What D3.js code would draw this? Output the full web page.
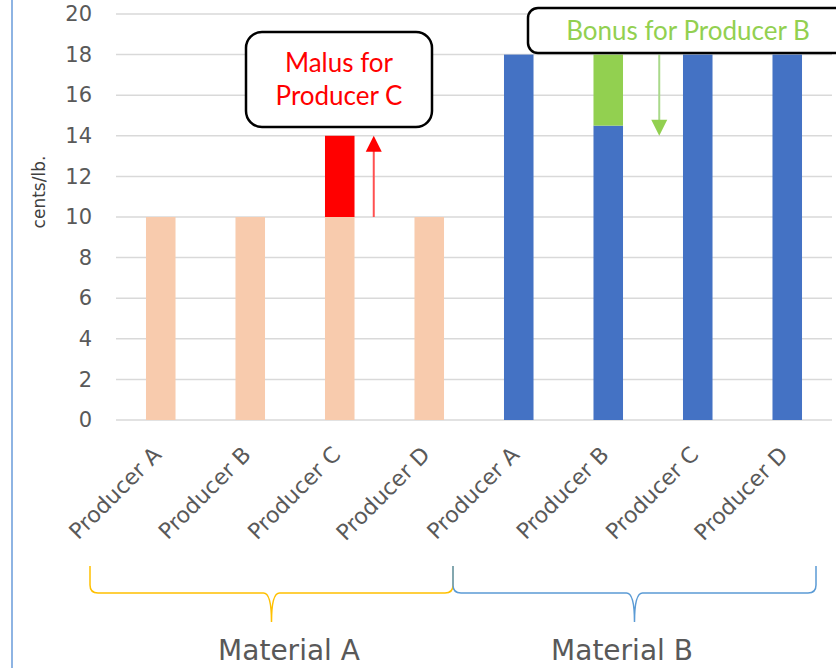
<!DOCTYPE html>
<html><head><meta charset="utf-8">
<script src="https://cdn.jsdelivr.net/npm/d3@7"></script>
<style>
html,body{margin:0;padding:0;background:#fff;}
svg{display:block;}
</style></head>
<body>
<svg id="chart" width="836" height="668"></svg>
<script>
const categories = ["Producer A","Producer B","Producer C","Producer D","Producer A","Producer B","Producer C","Producer D"];
const materials = ["Material A","Material B"];
const materialOf = [0,0,0,0,1,1,1,1];
const baseValues = [10,10,10,10,18,14.5,18,18];
const malusValues = [0,0,4,0,0,0,0,0];
const bonusValues = [0,0,0,0,0,3.5,0,0];
const yTicks = [0,2,4,6,8,10,12,14,16,18,20];
const yTitle = "cents/lb.";
const malusText = ["Malus for","Producer C"];
const bonusText = ["Bonus for Producer B"];

const svg = d3.select("#chart");
const W = 836, H = 668;
const x = d3.scaleBand().domain(d3.range(categories.length)).range([116, 832]).padding(0);
const y = d3.scaleLinear().domain([0,20]).range([420,14]);
const barW = x.bandwidth()*0.33;
const matColor = ["#F8CBAD","#4472C4"];
const braceColor = ["#FFC000","#5B9BD5"];
const textCol = "#595959";
const tickFont = "'DejaVu Sans', sans-serif";
const annFont = "Lato, 'Open Sans', sans-serif";

// left border
svg.append("line").attr("x1",12).attr("x2",12).attr("y1",0).attr("y2",H)
  .attr("stroke","#8EB4E3").attr("stroke-width",2);

// gridlines
svg.append("g").selectAll("line").data(yTicks).join("line")
  .attr("x1",116).attr("x2",832).attr("y1",d=>y(d)).attr("y2",d=>y(d))
  .attr("stroke","#D9D9D9").attr("stroke-width",1.5);

// y axis labels
const yAxis = d3.axisLeft(y).tickValues(yTicks).tickSize(0).tickPadding(0);
const yg = svg.append("g").attr("transform","translate(92,0)").call(yAxis);
yg.select(".domain").remove();
yg.selectAll("text").attr("font-family",tickFont).attr("font-size",21).attr("fill",textCol);

svg.append("text").attr("transform","translate(45,192) rotate(-90)")
  .attr("text-anchor","middle").attr("font-family",tickFont).attr("font-size",17)
  .attr("fill","#404040").text(yTitle);

const cx = i => x(i) + x.bandwidth()/2;

// bars
const g = svg.append("g");
g.selectAll(".base").data(baseValues).join("rect").attr("class","base")
  .attr("x",(d,i)=>cx(i)-barW/2).attr("width",barW)
  .attr("y",d=>y(d)).attr("height",d=>y(0)-y(d))
  .attr("fill",(d,i)=>matColor[materialOf[i]]);
g.selectAll(".malus").data(malusValues).join("rect").attr("class","malus")
  .attr("x",(d,i)=>cx(i)-barW/2).attr("width",barW)
  .attr("y",(d,i)=>y(baseValues[i]+d)).attr("height",d=>y(0)-y(d))
  .attr("fill","#FF0000");
g.selectAll(".bonus").data(bonusValues).join("rect").attr("class","bonus")
  .attr("x",(d,i)=>cx(i)-barW/2).attr("width",barW)
  .attr("y",(d,i)=>y(baseValues[i]+d)).attr("height",d=>y(0)-y(d))
  .attr("fill","#92D050");

// x tick labels
const xAxis = d3.axisBottom(x).tickSize(0).tickFormat(i=>categories[i]);
const xg = svg.append("g").attr("transform","translate(0,420)").call(xAxis);
xg.select(".domain").remove();
xg.selectAll("text").attr("font-family",tickFont).attr("font-size",22).attr("fill",textCol)
  .attr("text-anchor","end").attr("dy",0).attr("y",0)
  .attr("transform","translate(2,36) rotate(-45)");

// arrows
const malusIdx = malusValues.findIndex(v=>v>0);
const bonusIdx = bonusValues.findIndex(v=>v>0);
const rx = cx(malusIdx)+34, rTop = y(baseValues[malusIdx]+malusValues[malusIdx]);
svg.append("line").attr("x1",rx).attr("x2",rx)
  .attr("y1",y(baseValues[malusIdx])).attr("y2",rTop+14)
  .attr("stroke","#FF5050").attr("stroke-width",2);
svg.append("path").attr("fill","#FF0000")
  .attr("d",`M${rx},${rTop}L${rx+8},${rTop+16}L${rx-8},${rTop+16}Z`);
const gx = cx(bonusIdx)+51, gTip = y(14);
svg.append("line").attr("x1",gx).attr("x2",gx)
  .attr("y1",y(baseValues[bonusIdx]+bonusValues[bonusIdx])).attr("y2",gTip-14)
  .attr("stroke","#A9D98A").attr("stroke-width",2);
svg.append("path").attr("fill","#92D050")
  .attr("d",`M${gx},${gTip}L${gx+8},${gTip-16}L${gx-8},${gTip-16}Z`);

// annotation boxes
svg.append("rect").attr("x",246).attr("y",32).attr("width",186).attr("height",95)
  .attr("rx",16).attr("fill","#fff").attr("stroke","#000").attr("stroke-width",2.5);
svg.append("text").attr("font-family",annFont).attr("font-size",26)
  .attr("fill","#FF0000").attr("text-anchor","middle")
  .selectAll("tspan").data(malusText).join("tspan").attr("x",339).attr("y",(d,i)=>72+i*33).text(d=>d);

svg.append("rect").attr("x",528).attr("y",8).attr("width",320).attr("height",45)
  .attr("rx",10).attr("fill","#fff").attr("stroke","#000").attr("stroke-width",2.5);
svg.append("text").attr("x",688).attr("y",40).attr("font-family",annFont).attr("font-size",26)
  .attr("fill","#92D050").attr("text-anchor","middle").text(bonusText[0]);

// braces
function brace(x0,x1,yTop,yMid,yTip,color){
  const xm=(x0+x1)/2, r=8;
  const p = `M${x0},${yTop} L${x0},${yMid-r} Q${x0},${yMid} ${x0+r},${yMid} L${xm-r},${yMid} Q${xm},${yMid} ${xm},${yTip}` +
            ` Q${xm},${yMid} ${xm+r},${yMid} L${x1-r},${yMid} Q${x1},${yMid} ${x1},${yMid-r} L${x1},${yTop}`;
  svg.append("path").attr("d",p).attr("fill","none").attr("stroke",color).attr("stroke-width",1.5);
}
materials.forEach((m,k)=>{
  const idx = d3.range(categories.length).filter(i=>materialOf[i]===k);
  const x0 = x(idx[0]) - (k===0?26:21);
  const x1 = x(idx[idx.length-1]) + x.bandwidth() - (k===0?21:16);
  brace(x0, x1, 566, 593, 622, braceColor[k]);
});
svg.append("g").selectAll("text").data(materials).join("text")
  .attr("x",(d,k)=>k===0?289:622).attr("y",660).attr("text-anchor","middle")
  .attr("font-family",tickFont).attr("font-size",28).attr("fill",textCol).text(d=>d);
</script>
</body></html>
